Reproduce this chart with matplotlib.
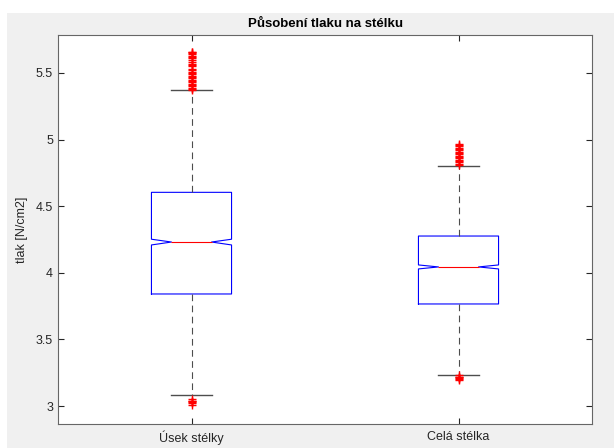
import matplotlib
matplotlib.use("Agg")
import matplotlib.pylab as plt
from matplotlib.patches import Rectangle

plt.rcParams['font.family'] = ['Liberation Sans', 'DejaVu Sans']

# box statistics
labels = ["Úsek stélky", "Celá stélka"]
med = [4.231, 4.044]
q1 = [3.841, 3.766]
q3 = [4.604, 4.276]
cilo = [4.209, 4.029]
cihi = [4.252, 4.059]
whislo = [3.085, 3.235]
whishi = [5.370, 4.804]

fliers1 = [5.66, 5.655, 5.65, 5.64, 5.63, 5.62, 5.61, 5.60, 5.58, 5.57, 5.56,
           5.55, 5.53, 5.52, 5.51, 5.50, 5.49, 5.48, 5.47, 5.46, 5.45, 5.44,
           5.43, 5.42, 5.41, 5.40, 5.39, 5.38, 5.375,
           3.05, 3.04, 3.035, 3.03, 3.02, 3.01]
fliers2 = [4.97, 4.96, 4.95, 4.94, 4.93, 4.92, 4.91, 4.90, 4.89, 4.88, 4.87,
           4.86, 4.85, 4.84, 4.83, 4.82, 4.81,
           3.23, 3.22, 3.215, 3.21, 3.20, 3.195]
fliers = [fliers1, fliers2]

stats = []
for i in range(len(labels)):
    stats.append(dict(label=labels[i], med=med[i], q1=q1[i], q3=q3[i],
                      cilo=cilo[i], cihi=cihi[i],
                      whislo=whislo[i], whishi=whishi[i], fliers=fliers[i]))

fig = plt.figure(figsize=(6.14, 4.48), dpi=100)
fig.patch.set_facecolor('white')
# grey MATLAB figure area (small white strip on top and left)
fig.patches.append(Rectangle((7 / 614, 0), 1, (448 - 13) / 448,
                             transform=fig.transFigure, facecolor='#f0f0f0',
                             edgecolor='none', zorder=-10))

ax = fig.add_axes([58 / 614, 24 / 448, (592 - 58) / 614, (424 - 35) / 448])
ax.bxp(stats, positions=[1, 2], widths=0.3, shownotches=True,
       boxprops=dict(color='blue', linewidth=0.8),
       medianprops=dict(color='red', linewidth=0.8),
       whiskerprops=dict(color='0.3', linewidth=0.8, linestyle=(0, (6, 4))),
       capprops=dict(color='0.3', linewidth=1.0),
       flierprops=dict(marker='+', markeredgecolor='red', markersize=6,
                       markeredgewidth=1.0, linestyle='none'))

ax.set_xlim(0.5, 2.5)
ax.set_ylim(2.865, 5.785)
ax.set_yticks([3, 3.5, 4, 4.5, 5, 5.5])
ax.set_yticklabels(['3', '3.5', '4', '4.5', '5', '5.5'])
ax.set_xticks([1, 2])
ax.set_xticklabels(labels)

ax.tick_params(direction='in', length=4, width=0.8, colors='0.15',
               labelsize=9, top=True, right=True)
ax.tick_params(axis='x', pad=5)
for s in ax.spines.values():
    s.set_color('0.4')
    s.set_linewidth(0.8)

ax.set_ylabel('tlak [N/cm2]', fontsize=9, color='0.15', labelpad=6)
ax.set_title('Působení tlaku na stélku', fontsize=9.5, fontweight='bold',
             color='black', pad=6)

fig.savefig('out.png', dpi=100)
plt.close(fig)
